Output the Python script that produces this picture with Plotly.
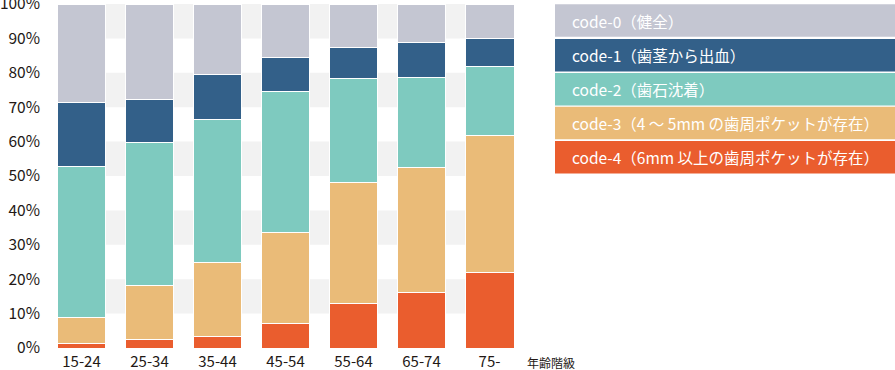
import plotly.graph_objects as go

categories = ["15-24", "25-34", "35-44", "45-54", "55-64", "65-74", "75-"]
code4 = [1.3, 2.4, 3.3, 7.1, 12.9, 16.1, 22.0]
code3 = [7.6, 15.8, 21.6, 26.5, 35.3, 36.4, 39.8]
code2 = [44.0, 41.6, 41.6, 40.9, 30.0, 26.2, 20.1]
code1 = [18.5, 12.4, 13.0, 10.0, 9.3, 10.2, 8.1]
code0 = [28.6, 27.8, 20.5, 15.5, 12.5, 11.1, 10.0]

series_names = [
    "code-0（健全）",
    "code-1（歯茎から出血）",
    "code-2（歯石沈着）",
    "code-3（4 ～ 5mm の歯周ポケットが存在）",
    "code-4（6mm 以上の歯周ポケットが存在）",
]
series_values = [code0, code1, code2, code3, code4]
colors = ["#c4c6d2", "#336089", "#7ecabf", "#eabb78", "#ea5d2e"]
x_axis_label = "年齢階級"

FONT = "Noto Sans CJK JP"
TEXT = "#231815"

fig = go.Figure()
# stack bottom-up: code-4 first
for name, vals, col in reversed(list(zip(series_names, series_values, colors))):
    fig.add_trace(go.Bar(
        x=categories, y=vals, name=name,
        marker=dict(color=col, line=dict(color="white", width=1)),
        showlegend=False, hoverinfo="skip",
    ))

shapes = []
for lo in [10, 30, 50, 70, 90]:
    shapes.append(dict(type="rect", xref="paper", yref="y", x0=0, x1=1, y0=lo, y1=lo + 10,
                       fillcolor="#f2f2f2", line=dict(width=0), layer="below"))

# custom legend boxes (pixel positions converted to paper coords)
L, R, T, B = 57, 381, 4, 22
W, H = 895, 370
pw, ph = W - L - R, H - T - B

def px(x):
    return (x - L) / pw

def py(y):
    return 1 - (y - T) / ph

box_tops = [4.3, 39, 73, 106.7, 141]
box_h = 32.5
annotations = []
for i, (name, col) in enumerate(zip(series_names, colors)):
    y0 = box_tops[i]
    shapes.append(dict(type="rect", xref="paper", yref="paper",
                       x0=px(555), x1=px(900), y0=py(y0 + box_h), y1=py(y0),
                       fillcolor=col, line=dict(width=0)))
    annotations.append(dict(xref="paper", yref="paper", x=px(569.5), y=py(y0 + box_h / 2),
                            text=name, showarrow=False, xanchor="left", yanchor="middle",
                            font=dict(family=FONT, size=15.5, color="white")))

annotations.append(dict(xref="paper", yref="paper", x=px(525), y=py(362),
                        text=x_axis_label, showarrow=False, xanchor="left", yanchor="middle",
                        font=dict(family=FONT, size=12, color=TEXT)))

fig.update_layout(
    width=W, height=H,
    margin=dict(l=L, r=R, t=T, b=B, autoexpand=False),
    barmode="stack", bargap=0.28,
    plot_bgcolor="white", paper_bgcolor="white",
    font=dict(family=FONT, size=15, color=TEXT),
    shapes=shapes, annotations=annotations,
    xaxis=dict(range=[-0.36, 6.36], showgrid=False, zeroline=False, showline=False,
               ticks="", automargin=False, ticklabelstandoff=3, ticklabeloverflow="allow",
               tickfont=dict(size=15, color=TEXT)),
    yaxis=dict(range=[0, 100], dtick=10, ticksuffix="%", showgrid=False, zeroline=False,
               showline=False, ticks="", ticklabelstandoff=16, automargin=False,
               ticklabeloverflow="allow", tickfont=dict(size=15.5, color=TEXT)),
)

fig.write_html("out.html", config={"displayModeBar": False, "staticPlot": True},
               post_script="document.body.style.margin='0';")
